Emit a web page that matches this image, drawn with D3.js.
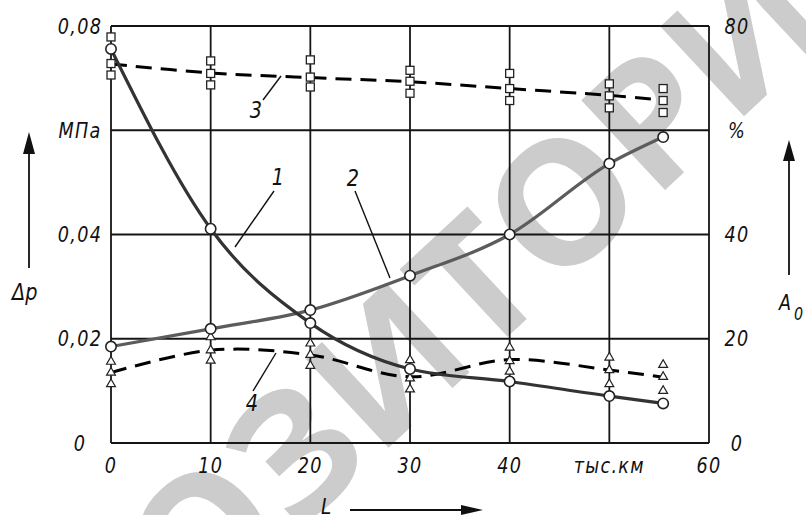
<!DOCTYPE html>
<html>
<head>
<meta charset="utf-8">
<script src="https://cdn.jsdelivr.net/npm/d3@7/dist/d3.min.js"></script>
<style>
  body { margin: 0; background: #fff; }
  text { font-family: "DejaVu Sans", sans-serif; font-style: italic; fill: #111; }
  .wm { font-family: "Open Sans", "DejaVu Sans", sans-serif; font-style: normal; font-weight: bold; fill: #cccccc; }
</style>
</head>
<body>
<div id="chart"></div>
<script>
// Width and height of the SVG
const width = 806;
const height = 515;

// run length, thousand km
const km = [0, 10, 20, 30, 40, 50, 55.4];
// curve 1: pressure drop, MPa
const dp1 = [0.0756, 0.0411, 0.0230, 0.0142, 0.0118, 0.0090, 0.0076];
// curve 2: A0, %
const a2 = [18.5, 21.9, 25.5, 32.1, 40.0, 53.6, 58.7];
// curve 3 (dashed, squares), %
const a3 = [72.7, 71.0, 70.1, 69.3, 68.0, 66.7, 65.8];
const a3pts = [
    [77.9, 72.8, 70.6], [73.3, 70.9, 68.7], [73.5, 70.2, 68.3], [71.5, 69.4, 67.1],
    [70.9, 68.0, 65.7], [68.9, 66.6, 64.3], [68.0, 65.7, 63.4]
];
// curve 4 (dashed, triangles), %
const a4 = [13.5, 17.8, 16.9, 12.7, 16.0, 14.0, 12.6];
const a4pts = [
    [15.6, 13.5, 11.3], [20.3, 17.8, 15.8], [19.1, 16.9, 14.8], [15.9, 12.4, 10.3],
    [18.3, 15.7, 13.7], [16.4, 14.0, 11.3], [15.0, 12.7, 10.0]
];

const xTicks = [0, 10, 20, 30, 40, 50, 60];
const xTickLabels = ["0", "10", "20", "30", "40", "тыс.км", "60"];
const leftTicks = [0, 0.02, 0.04, 0.06, 0.08];
const leftTickLabels = ["0", "0,02", "0,04", "МПа", "0,08"];
const rightTicks = [0, 20, 40, 60, 80];
const rightTickLabels = ["0", "20", "40", "%", "80"];

const svg = d3.select("#chart")
    .append("svg")
    .attr("width", width)
    .attr("height", height);

// narrow drafting-style lettering: squeeze DejaVu horizontally
const narrow = (px, py) => `translate(${px},${py}) scale(0.84,1)`;

// watermark
svg.append("text")
    .attr("class", "wm")
    .attr("transform", "translate(405,350) rotate(-43)")
    .attr("text-anchor", "middle")
    .attr("dy", "0.35em")
    .style("font-size", "172px")
    .text("РЕПОЗИТОРИЙ");

const x = d3.scaleLinear().domain([0, 60]).range([111, 709]);
const yL = d3.scaleLinear().domain([0, 0.08]).range([443, 26]);
const yR = d3.scaleLinear().domain([0, 80]).range([443, 26]);

// grid
const grid = svg.append("g").attr("stroke", "#151515").attr("stroke-width", 1.8);
grid.selectAll("line.v").data(xTicks).enter().append("line")
    .attr("x1", d => x(d)).attr("x2", d => x(d))
    .attr("y1", yL(0)).attr("y2", yL(0.08));
grid.selectAll("line.h").data(leftTicks).enter().append("line")
    .attr("x1", x(0)).attr("x2", x(60))
    .attr("y1", d => yL(d)).attr("y2", d => yL(d));

// tick labels
svg.selectAll("text.xl").data(xTicks).enter().append("text")
    .attr("transform", d => narrow(x(d), 473))
    .attr("text-anchor", "middle")
    .style("font-size", "21px").style("letter-spacing", "1.5px")
    .text((d, i) => xTickLabels[i]);
svg.selectAll("text.ll").data(leftTicks).enter().append("text")
    .attr("transform", d => narrow(80, yL(d)))
    .attr("dy", "0.36em")
    .attr("text-anchor", "middle")
    .style("font-size", "21px").style("letter-spacing", "1.5px")
    .text((d, i) => leftTickLabels[i]);
svg.selectAll("text.rl").data(rightTicks).enter().append("text")
    .attr("transform", d => narrow(737, yR(d)))
    .attr("dy", "0.36em")
    .attr("text-anchor", "middle")
    .style("font-size", "21px").style("letter-spacing", "1.5px")
    .text((d, i) => rightTickLabels[i]);

// curves
const rows = km.map((k, i) => ({ k: k, dp1: dp1[i], a2: a2[i], a3: a3[i], a4: a4[i] }));

svg.append("path").datum(rows)
    .attr("fill", "none").attr("stroke", "#000").attr("stroke-width", 3)
    .attr("stroke-dasharray", "16,9")
    .attr("d", d3.line().x(d => x(d.k)).y(d => yR(d.a3)).curve(d3.curveCatmullRom));
svg.append("path").datum(rows)
    .attr("fill", "none").attr("stroke", "#000").attr("stroke-width", 3)
    .attr("stroke-dasharray", "16,9")
    .attr("d", d3.line().x(d => x(d.k)).y(d => yR(d.a4)).curve(d3.curveCatmullRom));
svg.append("path").datum(rows)
    .attr("fill", "none").attr("stroke", "#5c5c5c").attr("stroke-width", 3.2)
    .attr("d", d3.line().x(d => x(d.k)).y(d => yR(d.a2)).curve(d3.curveMonotoneX));
svg.append("path").datum(rows)
    .attr("fill", "none").attr("stroke", "#333").attr("stroke-width", 3.2)
    .attr("d", d3.line().x(d => x(d.k)).y(d => yL(d.dp1)).curve(d3.curveMonotoneX));

// markers
const sq = [];
a3pts.forEach((vals, i) => vals.forEach(v => sq.push({ k: km[i], v: v })));
svg.selectAll("rect.sq").data(sq).enter().append("rect")
    .attr("x", d => x(d.k) - 4).attr("y", d => yR(d.v) - 4)
    .attr("width", 8).attr("height", 8)
    .attr("fill", "#fff").attr("stroke", "#222").attr("stroke-width", 1.3);

const tri = [];
a4pts.forEach((vals, i) => vals.forEach(v => tri.push({ k: km[i], v: v })));
svg.selectAll("path.tri").data(tri).enter().append("path")
    .attr("transform", d => `translate(${x(d.k)},${yR(d.v)})`)
    .attr("d", d3.symbol().type(d3.symbolTriangle).size(34))
    .attr("fill", "#fff").attr("stroke", "#222").attr("stroke-width", 1.2);

svg.selectAll("circle.c1").data(rows).enter().append("circle")
    .attr("cx", d => x(d.k)).attr("cy", d => yL(d.dp1)).attr("r", 5.2)
    .attr("fill", "#fff").attr("stroke", "#222").attr("stroke-width", 1.6);
svg.selectAll("circle.c2").data(rows).enter().append("circle")
    .attr("cx", d => x(d.k)).attr("cy", d => yR(d.a2)).attr("r", 5.2)
    .attr("fill", "#fff").attr("stroke", "#222").attr("stroke-width", 1.6);

// curve numbers with leaders
const callouts = [
    { t: "1", tx: 278, ty: 185, x1: 274, y1: 191, x2: 235, y2: 247 },
    { t: "2", tx: 353, ty: 186, x1: 355, y1: 191, x2: 390, y2: 278 },
    { t: "3", tx: 256, ty: 118, x1: 263, y1: 100, x2: 281, y2: 76 },
    { t: "4", tx: 252, ty: 411, x1: 253, y1: 391, x2: 276, y2: 353 }
];
svg.selectAll("line.lead").data(callouts).enter().append("line")
    .attr("x1", d => d.x1).attr("y1", d => d.y1).attr("x2", d => d.x2).attr("y2", d => d.y2)
    .attr("stroke", "#111").attr("stroke-width", 1.4);
svg.selectAll("text.num").data(callouts).enter().append("text")
    .attr("transform", d => narrow(d.tx, d.ty))
    .attr("text-anchor", "middle")
    .style("font-size", "23px")
    .text(d => d.t);

// axis arrows and names
const arrows = svg.append("g").attr("stroke", "#111").attr("fill", "#111");
arrows.append("line").attr("x1", 29).attr("x2", 29).attr("y1", 268).attr("y2", 150).attr("stroke-width", 1.8);
arrows.append("path").attr("d", "M29,132 L23,154 L35,154 Z").attr("stroke", "none");
arrows.append("line").attr("x1", 789).attr("x2", 789).attr("y1", 275).attr("y2", 158).attr("stroke-width", 1.8);
arrows.append("path").attr("d", "M789,140 L783,161 L795,161 Z").attr("stroke", "none");
arrows.append("line").attr("x1", 350).attr("x2", 465).attr("y1", 510).attr("y2", 510).attr("stroke-width", 1.8);
arrows.append("path").attr("d", "M483,510 L461,505 L461,515 Z").attr("stroke", "none");

svg.append("text").attr("transform", narrow(12, 300)).style("font-size", "23px").text("Δp");
svg.append("text").attr("transform", narrow(779, 310)).style("font-size", "21px").text("A");
svg.append("text").attr("transform", narrow(794, 320)).style("font-size", "17px").text("0");
svg.append("text").attr("transform", narrow(321, 514)).style("font-size", "22px").text("L");
</script>
</body>
</html>
